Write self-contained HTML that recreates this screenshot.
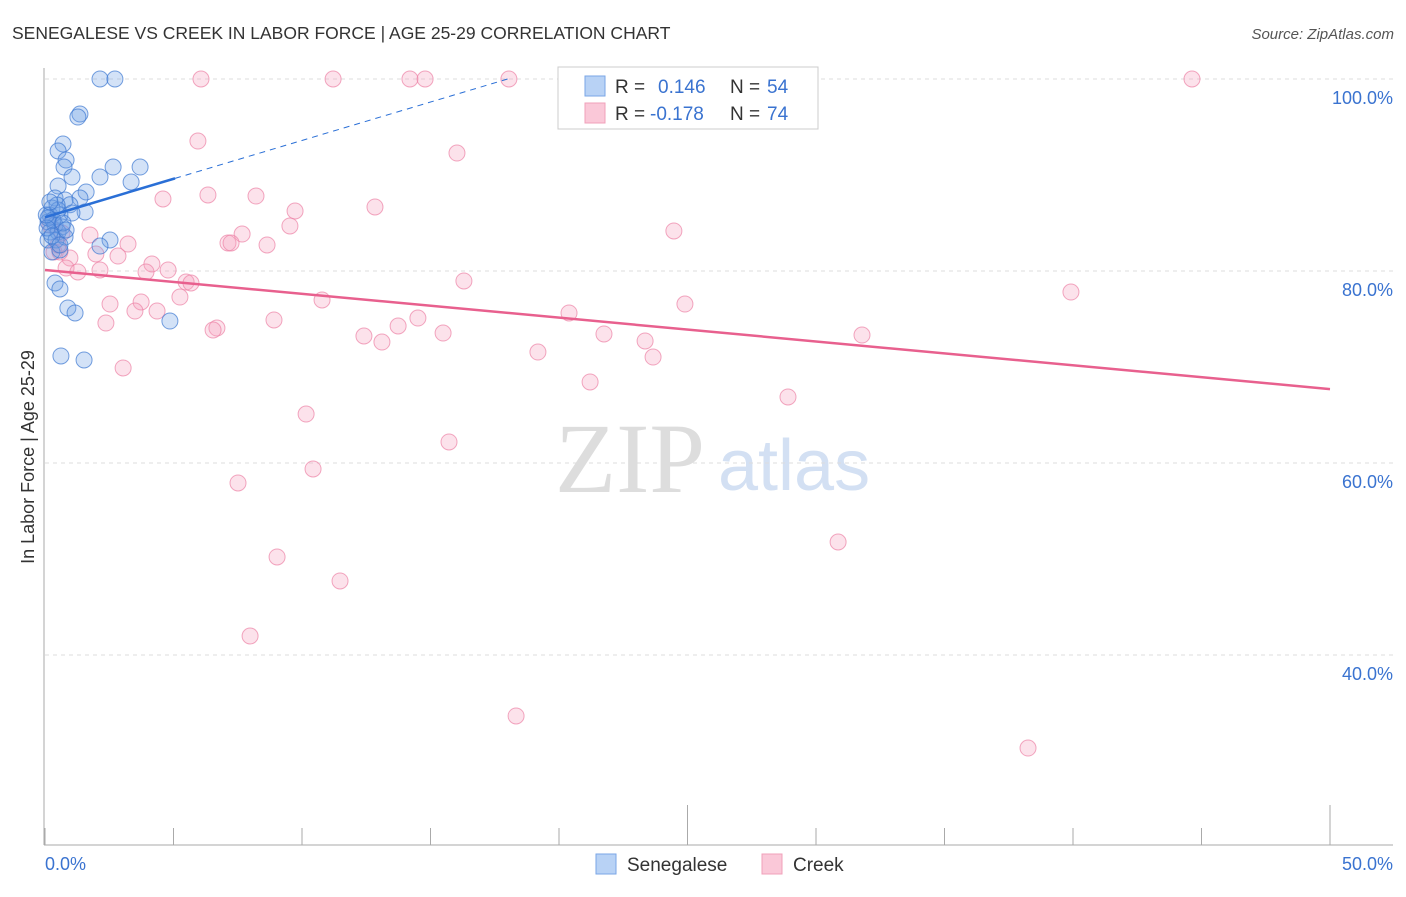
<!DOCTYPE html>
<html><head><meta charset="utf-8"><style>
body{margin:0;background:#fff;font-family:"Liberation Sans",sans-serif;}
svg text{font-family:"Liberation Sans",sans-serif;}
</style></head><body>
<svg id="chart" width="1406" height="892">
<text x="12" y="39" font-size="17.5" fill="#333">SENEGALESE VS CREEK IN LABOR FORCE | AGE 25-29 CORRELATION CHART</text>
<text x="1394" y="39" font-size="15" fill="#555" font-style="italic" text-anchor="end">Source: ZipAtlas.com</text>
<text x="555" y="492" font-size="100" fill="#ddd" style="font-family:'Liberation Serif',serif">ZIP</text>
<text x="718" y="490" font-size="72" fill="#d3e0f3">atlas</text>
<g id="grid"></g>
<g id="axes"></g>
<g id="pts"></g>
<g id="trends"></g>
<text transform="translate(34,457) rotate(-90)" font-size="18" fill="#333" text-anchor="middle">In Labor Force | Age 25-29</text>
<g>
<rect x="558" y="67" width="260" height="62" fill="#fff" stroke="#ccc"/>
<rect x="585" y="76" width="20" height="20" fill="#b8d2f5" stroke="#7aa6e6"/>
<rect x="585" y="103" width="20" height="20" fill="#fac8d8" stroke="#f0a0ba"/>
<text x="615" y="93" font-size="19" fill="#333">R = </text><text x="658" y="93" font-size="19" fill="#3a73d0">0.146</text>
<text x="730" y="93" font-size="19" fill="#333">N = </text><text x="767" y="93" font-size="19" fill="#3a73d0">54</text>
<text x="615" y="120" font-size="19" fill="#333">R = </text><text x="650" y="120" font-size="19" fill="#3a73d0">-0.178</text>
<text x="730" y="120" font-size="19" fill="#333">N = </text><text x="767" y="120" font-size="19" fill="#3a73d0">74</text>
</g>
<g>
<rect x="596" y="854" width="20" height="20" fill="#b8d2f5" stroke="#7aa6e6"/>
<text x="627" y="871" font-size="19" fill="#333">Senegalese</text>
<rect x="762" y="854" width="20" height="20" fill="#fac8d8" stroke="#f0a0ba"/>
<text x="793" y="871" font-size="19" fill="#333">Creek</text>
</g>
</svg>
<script>
const yTicks=[100,80,60,40];
const yTickLabels=["100.0%","80.0%","60.0%","40.0%"];
const xTicks=[0,5,10,15,20,25,30,35,40,45,50];
const xTickLabels=["0.0%","50.0%"];
const senX=[2.14,2.72,1.36,1.28,0.70,0.51,0.82,0.74,1.05,0.51,1.60,2.14,2.65,3.70,3.35,0.39,0.78,1.36,0.97,1.56,0.27,0.19,0.58,1.05,0.12,0.39,0.66,0.19,0.51,0.12,0.43,0.78,2.53,2.14,0.27,0.58,0.39,0.58,0.89,1.17,4.86,0.62,1.52,0.12,0.31,0.51,0.70,0.08,0.27,0.58,0.82,0.05,0.47,0.19];
const senY=[100,100,96.35,96.04,93.23,92.5,91.56,90.83,89.79,88.85,88.23,89.79,90.83,90.83,89.27,87.6,87.4,87.6,86.9,86.15,86.56,85.83,85.83,86.04,85.1,84.8,84.6,84.06,84.06,83.23,83.23,83.54,83.23,82.6,81.98,82.19,78.75,78.13,76.15,75.63,74.79,71.15,70.73,85.52,85.31,86.35,85.0,84.48,83.65,82.71,84.27,85.83,86.88,87.19];
const creX=[6.07,11.21,14.2,14.79,18.05,44.63,5.95,16.03,4.59,6.34,8.21,12.84,9.73,9.53,24.47,7.67,7.12,7.24,8.64,1.75,3.23,1.98,2.84,0.97,0.58,0.82,1.28,2.14,4.16,3.93,4.79,5.49,5.68,5.25,3.74,2.53,3.5,4.36,10.78,16.3,20.39,24.9,39.92,8.91,14.51,13.74,15.49,12.41,13.11,6.69,6.54,2.37,21.75,23.35,23.66,19.18,31.79,3.04,21.21,28.91,10.16,15.72,10.43,7.51,30.86,9.03,11.48,7.98,18.33,38.25,0.35,0.51,0.66,0.19];
const creY=[100,100,100,100,100,100,93.54,92.29,87.5,87.92,87.81,86.67,86.25,84.69,84.17,83.85,82.92,82.92,82.71,83.75,82.81,81.77,81.56,81.35,81.98,80.31,79.9,80.1,80.73,79.9,80.1,78.85,78.75,77.29,76.77,76.56,75.83,75.83,76.98,78.96,75.63,76.56,77.81,74.9,75.1,74.27,73.54,73.23,72.6,74.06,73.85,74.58,73.44,72.71,71.04,71.56,73.33,69.9,68.44,66.88,65.1,62.19,59.38,57.92,51.77,50.21,47.71,41.98,33.65,30.31,81.98,82.71,83.96,84.79];
const senTrend=[85.6,0.8];
const creTrend=[80.1,-0.248];
const NS="http://www.w3.org/2000/svg";
const X=v=>45+v*25.7, Y=v=>79+(100-v)*9.6;
function mk(tag,attrs,parent){const e=document.createElementNS(NS,tag);for(const k in attrs)e.setAttribute(k,attrs[k]);document.getElementById(parent).appendChild(e);return e;}
yTicks.forEach((t,i)=>{
 const l=mk('line',{x1:45,x2:1393,y1:Y(t),y2:Y(t),stroke:'#ddd','stroke-dasharray':'4,4'},'grid');
 
 
 const tx=mk('text',{x:1393,y:Y(t)+25,'font-size':18,fill:'#3a73d0','text-anchor':'end'},'grid');
 tx.textContent=yTickLabels[i];
 
 
});
const ax=mk('line',{x1:44,x2:44,y1:68,y2:845,stroke:'#aaa'},'axes');


const bx=mk('line',{x1:44,x2:1393,y1:845,y2:845,stroke:'#aaa'},'axes');


xTicks.forEach((t,i)=>{
 const l=mk('line',{x1:X(t),x2:X(t),y1:(i==5||i==10)?805:828,y2:845,stroke:'#aaa'},'axes');
 
 
});
[[0,xTickLabels[0],'start',45],[50,xTickLabels[1],'end',1393]].forEach(a=>{
 const tx=mk('text',{x:a[3],y:870,'font-size':18,fill:'#3a73d0','text-anchor':a[2]},'axes');
 tx.textContent=a[1];
 
 
});
creX.forEach((x,i)=>{
 const c=mk('circle',{cx:X(x),cy:Y(creY[i]),r:8,fill:'rgba(246,160,190,0.3)',stroke:'rgba(236,130,165,0.7)','stroke-width':1},'pts');
 
 
});
senX.forEach((x,i)=>{
 const c=mk('circle',{cx:X(x),cy:Y(senY[i]),r:8,fill:'rgba(110,160,230,0.3)',stroke:'rgba(60,120,210,0.7)','stroke-width':1},'pts');
 
 
});
const sEnd=5.06, sDash=(100-senTrend[0])/senTrend[1];
const s1=mk('line',{x1:X(0),y1:Y(senTrend[0]),x2:X(sEnd),y2:Y(senTrend[0]+senTrend[1]*sEnd),stroke:'#2a6fd6','stroke-width':2.5},'trends');


const s2=mk('line',{x1:X(sEnd),y1:Y(senTrend[0]+senTrend[1]*sEnd),x2:X(sDash),y2:Y(100),stroke:'#2a6fd6','stroke-width':1,'stroke-dasharray':'6,5'},'trends');


const c1=mk('line',{x1:X(0),y1:Y(creTrend[0]),x2:X(50),y2:Y(creTrend[0]+creTrend[1]*50),stroke:'#e8608e','stroke-width':2.5},'trends');


</script>
</body></html>
